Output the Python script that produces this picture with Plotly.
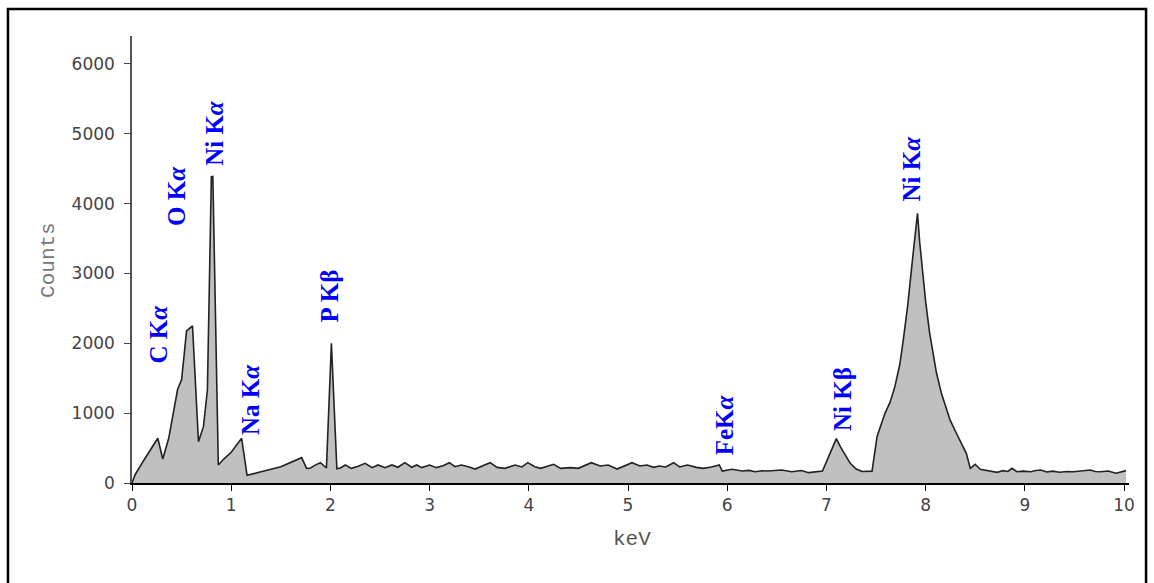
import plotly.graph_objects as go

# ---- data (energy in keV, counts) ----
energy = [
    0.00, 0.03, 0.11, 0.26, 0.31, 0.37, 0.46, 0.50, 0.55, 0.61, 0.67, 0.72, 0.76,
    0.80, 0.815, 0.87, 0.93, 1.00, 1.105, 1.16, 1.30, 1.50, 1.71, 1.76, 1.80, 1.85,
    1.90, 1.96, 2.01, 2.065, 2.10, 2.15, 2.21, 2.28, 2.35, 2.42, 2.48, 2.55, 2.62,
    2.68, 2.75, 2.82, 2.87, 2.92, 3.00, 3.07, 3.14, 3.20, 3.255, 3.32, 3.39, 3.46,
    3.53, 3.61, 3.68, 3.76, 3.86, 3.93, 3.99, 4.06, 4.12, 4.19, 4.25, 4.32, 4.42,
    4.50, 4.56, 4.63, 4.72, 4.80, 4.89, 4.96, 5.04, 5.12, 5.19, 5.26, 5.31, 5.38,
    5.46, 5.52, 5.60, 5.69, 5.76, 5.84, 5.92, 5.95, 6.05, 6.15, 6.22, 6.28, 6.35,
    6.41, 6.48, 6.55, 6.65, 6.75, 6.82, 6.90, 6.96, 7.10, 7.14, 7.20, 7.24, 7.30,
    7.36, 7.46, 7.51, 7.59, 7.64, 7.69, 7.74, 7.775, 7.82, 7.86, 7.89, 7.918, 7.94,
    7.97, 8.00, 8.04, 8.08, 8.11, 8.16, 8.21, 8.246, 8.31, 8.36, 8.41, 8.45, 8.50,
    8.55, 8.62, 8.67, 8.72, 8.78, 8.83, 8.87, 8.92, 8.98, 9.06, 9.11, 9.16, 9.22,
    9.28, 9.35, 9.42, 9.49, 9.58, 9.66, 9.71, 9.76, 9.84, 9.92, 10.02,
]
counts = [
    0, 115, 305, 640, 344, 640, 1342, 1476, 2178, 2249, 592, 807, 1332,
    4385, 4390, 258, 350, 440, 640, 110, 160, 234, 363, 210, 215, 260,
    291, 215, 2000, 205, 215, 258, 210, 240, 282, 220, 258, 220, 258,
    225, 291, 225, 258, 220, 258, 220, 250, 291, 234, 258, 234, 200,
    244, 291, 224, 210, 258, 230, 291, 234, 210, 240, 267, 210, 220,
    210, 250, 291, 244, 258, 200, 240, 291, 244, 258, 224, 243, 230,
    291, 230, 258, 224, 210, 230, 258, 172, 196, 172, 180, 162, 175,
    172, 180, 186, 162, 178, 148, 165, 172, 635, 520, 377, 282, 200,
    165, 170, 663, 998, 1150, 1380, 1700, 2049, 2550, 3099, 3500, 3860, 3450,
    3000, 2600, 2150, 1800, 1571, 1280, 1060, 903, 712, 560, 425, 210, 268,
    196, 177, 160, 153, 177, 165, 210, 162, 170, 162, 178, 186, 158,
    170, 153, 165, 162, 170, 186, 165, 162, 172, 139, 177,
]

# peak labels
label_text = ["C K<i>α</i>", "O K<i>α</i>", "Ni K<i>α</i>", "Na K<i>α</i>", "P Kβ",
              "FeK<i>α</i>", "Ni Kβ", "Ni K<i>α</i>"]
label_x = [0.262, 0.454, 0.837, 1.195, 1.986, 5.975, 7.167, 7.86]
label_y = [1690, 3653, 4513, 659, 2264, 372, 716, 3997]

x_ticks = [0, 1, 2, 3, 4, 5, 6, 7, 8, 9, 10]
y_ticks = [0, 1000, 2000, 3000, 4000, 5000, 6000]

fig = go.Figure()
fig.add_trace(go.Scatter(
    x=energy, y=counts, mode="lines", fill="tozeroy",
    fillcolor="#c0c0c0", line=dict(color="#222222", width=1.6),
    showlegend=False, hoverinfo="x+y",
))

for t, xv, yv in zip(label_text, label_x, label_y):
    fig.add_annotation(
        x=xv, y=yv, text="<b>" + t + "</b>", textangle=-90, showarrow=False,
        xanchor="center", yanchor="bottom",
        font=dict(family="Liberation Serif", size=25, color="#0000ff"),
    )

# axis titles as annotations (paper coords)
fig.add_annotation(x=0.5015, y=-0.1275, xref="paper", yref="paper", text="keV",
                   showarrow=False, xanchor="center", yanchor="middle",
                   font=dict(family="Liberation Mono", size=21, color="#555555"))
fig.add_annotation(x=-0.0833, y=0.499, xref="paper", yref="paper", text="Counts",
                   textangle=-90, showarrow=False, xanchor="center", yanchor="middle",
                   font=dict(family="Liberation Mono", size=21, color="#777777"))

# outer frame
fig.add_shape(type="rect", xref="paper", yref="paper",
              x0=-0.1244, x1=1.0171, y0=-0.30, y1=1.0604,
              line=dict(color="#000000", width=2.5), fillcolor="rgba(0,0,0,0)")

fig.update_layout(
    width=1154, height=583,
    margin=dict(l=132, r=25, t=36, b=100),
    paper_bgcolor="white", plot_bgcolor="white",
    font=dict(family="DejaVu Sans", size=17, color="#444444"),
    xaxis=dict(range=[0, 10.05], tickvals=x_ticks, showgrid=False, zeroline=False,
               showline=True, linecolor="#000000", linewidth=1.5,
               ticks="outside", ticklen=6, tickcolor="#000000", tickwidth=1.2,
               tickfont=dict(family="DejaVu Sans", size=17, color="#444444")),
    yaxis=dict(range=[0, 6400], tickvals=y_ticks, showgrid=False, zeroline=False,
               showline=True, linecolor="#555555", linewidth=1.5,
               ticks="outside", ticklen=6, tickcolor="#444444", tickwidth=1.2,
               ticklabelstandoff=6,
               tickfont=dict(family="DejaVu Sans", size=17, color="#444444")),
)

fig.write_html("out.html")
